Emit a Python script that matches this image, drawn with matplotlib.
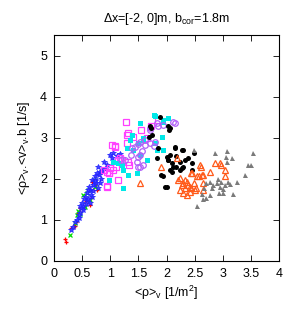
import matplotlib
matplotlib.use('Agg')
import matplotlib.pyplot as plt

plt.rcParams['font.family'] = ['Liberation Sans', 'DejaVu Sans']
plt.rcParams['mathtext.fontset'] = 'custom'
plt.rcParams['mathtext.rm'] = 'Liberation Sans'
plt.rcParams['mathtext.it'] = 'Liberation Sans'

# red plus
red_x = [0.20, 0.22, 0.31, 0.36, 0.37, 0.39, 0.43, 0.45, 0.46, 0.47, 0.53, 0.56, 0.57, 0.64, 0.65, 0.67, 0.70, 0.73, 0.76]
red_y = [0.53, 0.47, 0.80, 0.86, 0.86, 0.95, 1.16, 1.20, 1.20, 1.30, 1.32, 1.46, 1.41, 1.37, 1.53, 1.93, 1.73, 1.85, 1.72]
# green x
green_x = [0.28, 0.37, 0.40, 0.43, 0.46, 0.52, 0.55, 0.58, 0.61, 0.64, 0.73, 0.73]
green_y = [0.63, 0.92, 1.12, 1.22, 1.15, 1.61, 1.32, 1.65, 1.73, 1.49, 1.81, 1.98]
# blue stars
blue_x = [1.00, 0.88, 0.82, 0.80, 0.73, 0.71, 0.64, 0.67, 0.58, 0.52, 0.46, 0.44, 0.34, 0.31,
          0.78, 0.84, 0.61, 0.79, 0.55, 0.64, 0.51, 0.44, 0.67, 0.73, 1.03, 1.05, 0.82, 0.50,
          0.41, 0.58, 0.60, 0.70, 0.48, 0.90, 0.75, 0.66, 0.56, 0.38, 0.62, 0.69, 0.77, 0.86,
          0.53, 0.47, 0.72, 0.94, 1.12, 1.18]
blue_y = [2.59, 2.42, 2.18, 2.10, 1.98, 1.85, 1.73, 1.57, 1.49, 1.32, 1.16, 1.04, 0.84, 0.76,
          2.30, 2.00, 1.73, 1.77, 1.57, 1.41, 1.24, 1.12, 1.98, 2.06, 2.52, 2.63, 1.89, 1.41,
          1.00, 1.65, 1.50, 1.85, 1.28, 2.25, 1.90, 1.62, 1.38, 0.95, 1.80, 1.70, 2.15, 2.20,
          1.50, 1.35, 1.95, 2.35, 2.55, 2.62]
# magenta open squares
mag_x = [1.28, 1.03, 1.08, 1.29, 1.29, 1.32, 1.41, 1.14, 1.20, 1.17, 1.32, 1.00, 1.05, 0.94,
         0.88, 1.14, 0.94, 0.97, 1.11, 1.33, 1.65, 1.08, 0.95, 0.97, 1.55, 1.85, 1.72]
mag_y = [3.40, 2.83, 2.79, 2.87, 3.07, 3.11, 3.03, 2.46, 2.46, 2.50, 2.42, 2.26, 2.22, 2.18,
         2.22, 1.98, 1.81, 2.14, 2.30, 2.34, 2.99, 2.80, 1.83, 2.14, 3.20, 3.45, 3.30]
# cyan filled squares
cyan_x = [1.77, 1.53, 2.03, 1.94, 1.38, 1.35, 1.59, 1.05, 1.20, 1.23, 1.32, 0.97, 1.23, 1.65,
          1.53, 1.41, 1.83, 1.80, 1.92, 1.94, 1.30, 1.14, 1.50, 1.80, 1.59, 1.47, 1.94]
cyan_y = [3.56, 3.36, 3.48, 3.40, 3.07, 2.95, 2.95, 2.42, 2.34, 2.22, 2.10, 1.98, 1.77, 2.46,
          2.59, 2.71, 2.71, 2.87, 3.03, 2.71, 2.75, 2.38, 2.87, 3.54, 2.99, 2.14, 3.44]
# purple open circles
purp_x = [2.12, 1.53, 1.50, 1.56, 1.62, 1.50, 1.59, 1.53, 1.80, 1.85, 1.71, 1.94, 1.38, 1.77,
          1.71, 1.83, 2.15, 1.47, 1.53, 1.50, 1.62, 1.71, 1.44, 1.26, 1.36, 1.19]
purp_y = [3.40, 2.91, 2.85, 2.67, 2.83, 2.54, 2.34, 2.30, 2.91, 3.28, 3.20, 3.32, 2.75, 2.80,
          3.24, 3.36, 3.36, 2.42, 2.59, 2.30, 2.95, 2.87, 2.79, 2.46, 2.59, 2.46]
# black filled circles
black_x = [1.88, 2.06, 2.04, 1.72, 1.74, 1.68, 1.85, 2.15, 2.30, 2.06, 2.17, 2.03, 2.09, 2.24,
           2.39, 2.45, 2.30, 2.09, 1.94, 2.45, 2.24, 2.17, 2.15, 1.83, 2.03, 2.11, 1.91, 2.07,
           2.00, 2.27, 2.33, 2.48, 2.00, 2.03, 1.71, 1.97, 2.28]
black_y = [3.52, 3.25, 3.20, 3.25, 3.07, 3.03, 2.76, 2.75, 2.71, 2.59, 2.55, 2.46, 2.38, 2.42,
           2.50, 2.38, 2.30, 2.18, 2.06, 2.22, 2.22, 2.30, 2.79, 2.50, 2.46, 2.30, 2.10, 2.22,
           1.81, 2.26, 2.46, 2.63, 2.54, 3.28, 3.28, 1.81, 2.71]
# orange open triangles
orng_x = [1.53, 1.91, 2.21, 2.24, 2.30, 2.45, 2.54, 2.63, 2.77, 2.86, 2.33, 2.39, 2.48, 2.42,
          2.44, 2.30, 2.36, 2.18, 2.53, 2.64, 2.64, 2.60, 2.95, 2.96, 3.04, 3.04, 2.65, 2.57,
          2.24, 2.36, 2.27, 2.33, 2.51, 2.42, 2.61, 2.44]
orng_y = [1.91, 2.30, 1.98, 1.73, 1.90, 2.14, 2.06, 2.10, 2.18, 2.38, 1.98, 1.85, 1.90, 1.69,
          1.77, 1.65, 1.61, 2.50, 1.77, 1.90, 1.73, 2.34, 2.38, 2.33, 2.22, 2.07, 2.10, 2.06,
          2.02, 1.93, 1.85, 1.77, 1.73, 1.81, 2.30, 2.15]
# gray filled triangles
gray_x = [2.86, 3.07, 3.06, 3.16, 3.08, 3.54, 3.44, 3.51, 3.40, 3.25, 3.19, 3.10, 3.04, 2.95,
          3.01, 2.94, 2.83, 2.80, 2.89, 2.77, 2.71, 2.63, 2.64, 2.54, 2.66, 2.71, 3.13, 2.49,
          2.77, 2.97, 2.92, 3.00]
gray_y = [2.63, 2.68, 2.54, 2.50, 2.41, 2.63, 2.33, 2.34, 2.10, 1.93, 1.63, 1.93, 1.85, 1.81,
          1.65, 1.65, 1.85, 1.77, 1.90, 1.61, 1.53, 1.63, 1.51, 1.34, 1.77, 1.90, 1.88, 2.71,
          1.93, 1.93, 2.00, 1.75]

fig = plt.figure(figsize=(3.0, 3.14), dpi=100)
ax = fig.add_axes([0.18, 0.169, 0.75, 0.718])

ax.plot(red_x, red_y, '+', color='red', ms=3.5, mew=0.9, ls='none')
ax.plot(green_x, green_y, 'x', color='#00dd00', ms=3.2, mew=0.9, ls='none')
ax.plot(blue_x, blue_y, '*', color='#2020ff', ms=4.0, mew=0.5, mfc='#4040ff', ls='none')
ax.plot(mag_x, mag_y, 's', color='#ff40ff', mfc='none', ms=3.8, mew=0.9, ls='none')
ax.plot(cyan_x, cyan_y, 's', color='#00e8e8', ms=3.6, mew=0, ls='none')
ax.plot(purp_x, purp_y, 'o', color='#b060f8', mfc='none', ms=4.0, mew=0.9, ls='none')
ax.plot(black_x, black_y, 'o', color='black', ms=3.6, mew=0, ls='none')
ax.plot(orng_x, orng_y, '^', color='#ff5a1a', mfc='none', ms=4.0, mew=0.9, ls='none')
ax.plot(gray_x, gray_y, '^', color='#7a7a7a', ms=3.6, mew=0, ls='none')

ax.set_xlim(0, 4)
ax.set_ylim(0, 5.5)
ax.set_xticks([0, 0.5, 1, 1.5, 2, 2.5, 3, 3.5, 4])
ax.set_xticklabels(['0', '0.5', '1', '1.5', '2', '2.5', '3', '3.5', '4'])
ax.set_yticks([0, 1, 2, 3, 4, 5])
ax.tick_params(direction='in', top=True, right=True, length=4, width=0.6, labelsize=9, pad=5)
for s in ax.spines.values():
    s.set_linewidth(0.8)

ax.set_xlabel(r'<ρ>$_\mathregular{v}$ [1/m$^\mathregular{2}$]', fontsize=9, labelpad=3)
ax.set_ylabel(r'<ρ>$_\mathregular{v}$.<v>$_\mathregular{v}$.b [1/s]', fontsize=9, labelpad=6)
ax.set_title(r'Δx=[-2, 0]m, b$_\mathregular{cor}$=1.8m', fontsize=9, pad=10)

fig.savefig('out.png', dpi=100)
